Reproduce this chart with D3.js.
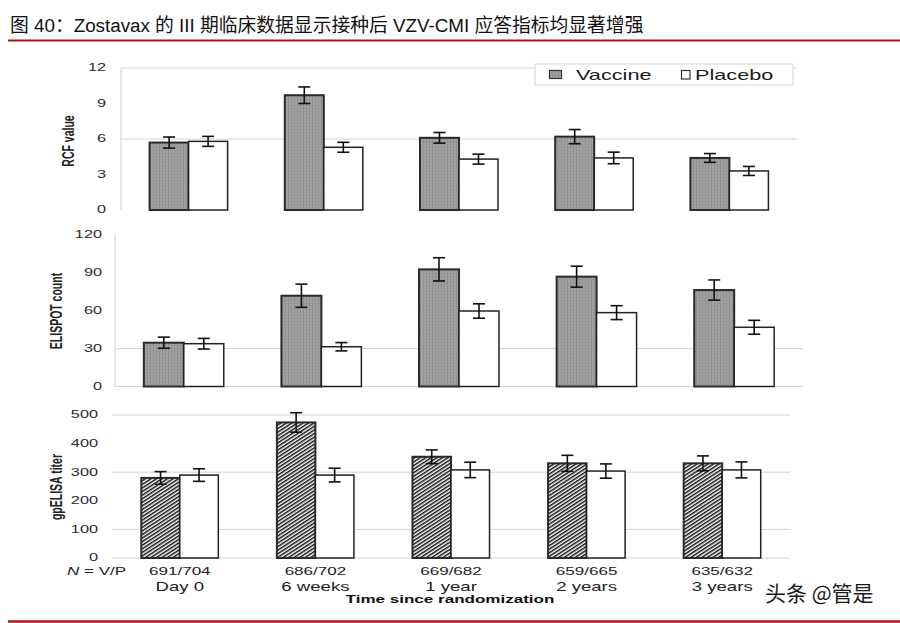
<!DOCTYPE html>
<html><head><meta charset="utf-8">
<script src="https://cdn.jsdelivr.net/npm/d3@7"></script>
<style>html,body{margin:0;padding:0;background:#fff;}svg{display:block;}</style>
</head><body>
<script>
// ---------- data ----------
const categories = ["Day 0", "6 weeks", "1 year", "2 years", "3 years"];
const nLabels = ["691/704", "686/702", "669/682", "659/665", "635/632"];
const seriesNames = ["Vaccine", "Placebo"];

const rcfVaccine = [5.7, 9.7, 6.1, 6.2, 4.4];
const rcfVaccineErr = [0.47, 0.7, 0.45, 0.6, 0.37];
const rcfPlacebo = [5.8, 5.3, 4.3, 4.4, 3.3];
const rcfPlaceboErr = [0.42, 0.42, 0.42, 0.49, 0.38];
const rcfTicks = [0, 3, 6, 9, 12];
const rcfGrid = [6, 12];

const elispotVaccine = [34.7, 71.9, 92.8, 87, 76.4];
const elispotVaccineErr = [4.4, 9.2, 9.2, 8.3, 8];
const elispotPlacebo = [33.9, 31.5, 59.8, 58.5, 46.9];
const elispotPlaceboErr = [4.2, 3.3, 5.7, 5.5, 5.5];
const elispotTicks = [0, 30, 60, 90, 120];
const elispotGrid = [0, 30];

const gpVaccine = [280, 474, 354, 331, 331];
const gpVaccineErr = [22, 34, 24, 28, 26];
const gpPlacebo = [290, 290, 308, 304, 308];
const gpPlaceboErr = [22, 24, 27, 25, 28];
const gpTicks = [0, 100, 200, 300, 400, 500];
const gpGrid = [0, 100, 300, 500];

const titleText = "图 40：Zostavax 的 III 期临床数据显示接种后 VZV-CMI 应答指标均显著增强";
const watermark = "头条 @管是";

// ---------- drawing ----------
const W = 900, H = 623, SX = 1.55;
const svg = d3.select("body").append("svg").attr("width", W).attr("height", H);
const defs = svg.append("defs");

const grey = defs.append("pattern").attr("id", "greyfill").attr("patternUnits", "userSpaceOnUse")
  .attr("width", 3).attr("height", 3);
grey.append("rect").attr("width", 3).attr("height", 3).attr("fill", "#a3a3a3");
grey.append("rect").attr("width", 1).attr("height", 3).attr("fill", "#8e8e8e");
grey.append("rect").attr("width", 3).attr("height", 1).attr("fill", "#979797");

const hatch = defs.append("pattern").attr("id", "hatch").attr("patternUnits", "userSpaceOnUse")
  .attr("width", 10).attr("height", 3).attr("patternTransform", "rotate(-33)");
hatch.append("rect").attr("width", 10).attr("height", 3).attr("fill", "#fff");
hatch.append("rect").attr("width", 10).attr("height", 1.5).attr("fill", "#111");

const FONT = "'Liberation Sans', Arial, sans-serif";

function stext(x, y, str, o = {}) {
  const g = svg.append("g").attr("transform", `translate(${x},${y}) scale(${SX},1)` + (o.rot ? ` rotate(${o.rot})` : ""));
  const t = g.append("text").text(str)
    .attr("font-family", o.family || FONT)
    .attr("font-size", o.size || 11)
    .attr("font-weight", o.weight || "normal")
    .attr("font-style", o.style || "normal")
    .attr("fill", o.fill || "#222")
    .attr("text-anchor", o.anchor || "middle");
  if (o.baseline) t.attr("dominant-baseline", o.baseline);
  return t;
}

// title & rules
svg.append("text").attr("x", 10).attr("y", 32).text(titleText)
  .attr("font-family", "'Liberation Sans','Noto Sans CJK SC',sans-serif").attr("font-size", 18.8).attr("fill", "#111");
svg.append("line").attr("x1", 8).attr("x2", 900).attr("y1", 40.5).attr("y2", 40.5).attr("stroke", "#b0121c").attr("stroke-width", 2);
svg.append("line").attr("x1", 8).attr("x2", 900).attr("y1", 621.5).attr("y2", 621.5).attr("stroke", "#b0121c").attr("stroke-width", 2.5);

function panel(cfg) {
  const x = d3.scaleBand().domain(categories).range(cfg.xr).paddingInner(cfg.pad).paddingOuter(cfg.pad / 2);
  const xs = d3.scaleBand().domain(seriesNames).range([0, x.bandwidth()]);
  const y = d3.scaleLinear().domain(cfg.domain).range(cfg.yr);
  const g = svg.append("g");
  g.selectAll(".grid").data(cfg.grid).join("line")
    .attr("x1", cfg.xr[0]).attr("x2", cfg.xr[1])
    .attr("y1", d => y(d)).attr("y2", d => y(d))
    .attr("stroke", "#d4d4d4").attr("stroke-width", 1);
  if (cfg.vaxis) {
    g.append("line").attr("x1", cfg.xr[0]).attr("x2", cfg.xr[0])
      .attr("y1", y(cfg.domain[0])).attr("y2", y(cfg.domain[1]))
      .attr("stroke", "#cfcfcf").attr("stroke-width", 1);
  }
  cfg.ticks.forEach(t => stext(cfg.tickX, y(t), String(t), { anchor: "end", size: 10.5, baseline: "central", fill: "#2a2a2a" }));
  stext(cfg.titleX, cfg.titleY, cfg.title, { rot: -90, size: 10.5, weight: "bold", baseline: "central",
    family: "'Liberation Sans Narrow','Arial Narrow','Liberation Sans',sans-serif" });
  const data = [];
  categories.forEach((c, i) => {
    data.push({ c, s: "Vaccine", v: cfg.vac[i], e: cfg.vacErr[i] });
    data.push({ c, s: "Placebo", v: cfg.pla[i], e: cfg.plaErr[i] });
  });
  g.selectAll(".bar").data(data).join("rect")
    .attr("x", d => x(d.c) + xs(d.s)).attr("width", xs.bandwidth())
    .attr("y", d => y(d.v)).attr("height", d => y(0) - y(d.v))
    .attr("fill", d => d.s === "Vaccine" ? cfg.vacFill : "#fff")
    .attr("stroke", d => d.s === "Vaccine" ? "#2a2a2a" : "#222")
    .attr("stroke-width", d => d.s === "Vaccine" ? 2 : 1.5);
  const eb = g.selectAll(".eb").data(data).join("g")
    .attr("transform", d => `translate(${x(d.c) + xs(d.s) + xs.bandwidth() / 2},0)`);
  eb.append("line").attr("x1", 0).attr("x2", 0).attr("y1", d => y(d.v + d.e)).attr("y2", d => y(d.v - d.e))
    .attr("stroke", "#111").attr("stroke-width", 1.6);
  eb.append("line").attr("x1", -6).attr("x2", 6).attr("y1", d => y(d.v + d.e)).attr("y2", d => y(d.v + d.e))
    .attr("stroke", "#111").attr("stroke-width", 1.6);
  eb.append("line").attr("x1", -6).attr("x2", 6).attr("y1", d => y(d.v - d.e)).attr("y2", d => y(d.v - d.e))
    .attr("stroke", "#111").attr("stroke-width", 1.6);
  return { x, y };
}

panel({ xr: [121, 797], yr: [210, 68], domain: [0, 12], pad: 0.423, grid: rcfGrid, ticks: rcfTicks, vaxis: true,
  tickX: 106, title: "RCF value", titleX: 69, titleY: 141,
  vac: rcfVaccine, vacErr: rcfVaccineErr, pla: rcfPlacebo, plaErr: rcfPlaceboErr, vacFill: "url(#greyfill)" });

panel({ xr: [115, 803], yr: [386.5, 235], domain: [0, 120], pad: 0.419, grid: elispotGrid, ticks: elispotTicks, vaxis: true,
  tickX: 102, title: "ELISPOT count", titleX: 57, titleY: 311,
  vac: elispotVaccine, vacErr: elispotVaccineErr, pla: elispotPlacebo, plaErr: elispotPlaceboErr, vacFill: "url(#greyfill)" });

const bottom = panel({ xr: [112, 790], yr: [558, 415], domain: [0, 500], pad: 0.432, grid: gpGrid, ticks: gpTicks, vaxis: false,
  tickX: 98, title: "gpELISA titer", titleX: 57, titleY: 487,
  vac: gpVaccine, vacErr: gpVaccineErr, pla: gpPlacebo, plaErr: gpPlaceboErr, vacFill: "url(#hatch)" });

// legend
svg.append("rect").attr("x", 535).attr("y", 64).attr("width", 258).attr("height", 21)
  .attr("fill", "#fff").attr("stroke", "#d4d4d4");
svg.append("rect").attr("x", 549.5).attr("y", 70.5).attr("width", 12).attr("height", 8)
  .attr("fill", "url(#greyfill)").attr("stroke", "#333").attr("stroke-width", 1.2);
stext(576, 79.5, seriesNames[0], { anchor: "start", size: 14, fill: "#1a1a1a" });
svg.append("rect").attr("x", 681.5).attr("y", 70.5).attr("width", 8.5).attr("height", 8.5)
  .attr("fill", "#fff").attr("stroke", "#333").attr("stroke-width", 1.2);
stext(695, 79.5, seriesNames[1], { anchor: "start", size: 14, fill: "#1a1a1a" });

// x labels
stext(67, 575, "N", { anchor: "start", size: 11, style: "italic" });
stext(67 + 11 * SX, 575, "= V/P", { anchor: "start", size: 11 });
categories.forEach((c, i) => {
  const cx = bottom.x(c) + bottom.x.bandwidth() / 2;
  stext(cx, 575, nLabels[i], { size: 11 });
  stext(cx, 590.5, c, { size: 12 });
});
stext(450, 603, "Time since randomization", { size: 11, weight: "bold", fill: "#111" });

// watermark
svg.append("text").attr("x", 765).attr("y", 601).text(watermark)
  .attr("font-family", "'Noto Sans CJK SC',sans-serif").attr("font-size", 21)
  .attr("fill", "#1a1a1a").attr("stroke", "#fff").attr("stroke-width", 0.5).attr("paint-order", "stroke");
</script>
</body></html>
